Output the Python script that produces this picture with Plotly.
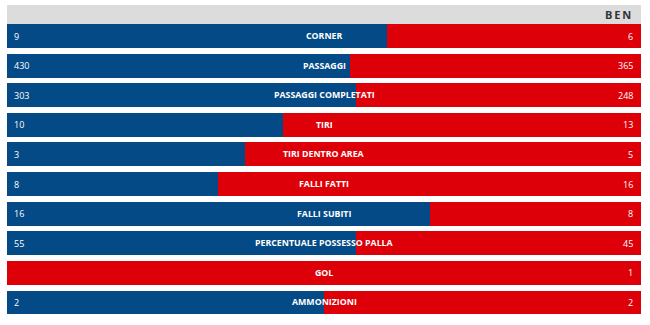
import plotly.graph_objects as go

categories = ["CORNER", "PASSAGGI", "PASSAGGI COMPLETATI", "TIRI", "TIRI DENTRO AREA",
              "FALLI FATTI", "FALLI SUBITI", "PERCENTUALE POSSESSO PALLA", "GOL", "AMMONIZIONI"]
home_values = [9, 430, 303, 10, 3, 8, 16, 55, 0, 2]
away_values = [6, 365, 248, 13, 5, 16, 8, 45, 1, 2]
away_team = "BEN"

BLUE = "#034a86"
RED = "#dd0008"
FONT = "Open Sans"

rows = list(range(len(categories)))
home_frac = [h / (h + a) for h, a in zip(home_values, away_values)]
away_frac = [a / (h + a) for h, a in zip(home_values, away_values)]

fig = go.Figure()
fig.add_trace(go.Bar(y=rows, x=home_frac, orientation="h", marker=dict(color=BLUE, line=dict(width=0)),
                     width=0.81, hoverinfo="skip"))
fig.add_trace(go.Bar(y=rows, x=away_frac, orientation="h", marker=dict(color=RED, line=dict(width=0)),
                     width=0.81, hoverinfo="skip"))

ann = []
for r, c, h, a in zip(rows, categories, home_values, away_values):
    ann.append(dict(x=0.5, y=r, xref="x", yref="y", text="<b>%s</b>" % c, showarrow=False,
                    font=dict(family=FONT, size=8.8, color="white"), xanchor="center", yanchor="middle"))
    if h > 0:
        ann.append(dict(x=0, y=r, xref="x", yref="y", text=str(h), showarrow=False, xshift=5,
                        font=dict(family=FONT, size=9, color="white"), xanchor="left", yanchor="middle"))
    if a > 0:
        ann.append(dict(x=1, y=r, xref="x", yref="y", text=str(a), showarrow=False, xshift=-6,
                        font=dict(family=FONT, size=9, color="white"), xanchor="right", yanchor="middle"))

ann.append(dict(x=1, y=-0.73, xref="x", yref="y", text="<b>" + "\u2009".join(away_team) + "</b>",
                showarrow=False, xshift=-8, font=dict(family=FONT, size=11, color="#333333"),
                xanchor="right", yanchor="middle"))

fig.update_layout(
    width=650, height=325,
    margin=dict(l=7, r=9, t=5, b=7),
    barmode="stack",
    bargap=0,
    showlegend=False,
    paper_bgcolor="white",
    plot_bgcolor="white",
    xaxis=dict(range=[0, 1], visible=False, fixedrange=True),
    yaxis=dict(range=[9.524, -1.048], visible=False, fixedrange=True),
    shapes=[dict(type="rect", xref="x", yref="y", x0=0, x1=1, y0=-1.048, y1=-0.405,
                 fillcolor="#dcdcdc", line=dict(width=0), layer="below")],
    annotations=ann,
)

fig.write_html("out.html")
